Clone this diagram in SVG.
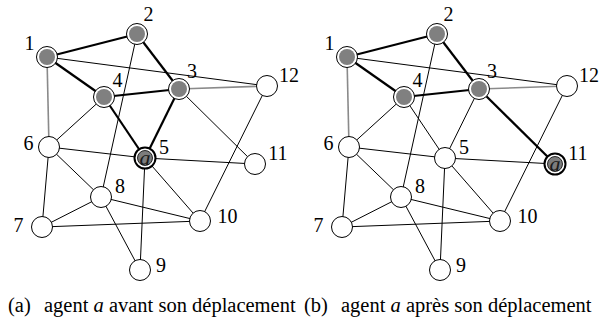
<svg xmlns="http://www.w3.org/2000/svg" width="608" height="320" viewBox="0 0 608 320">
<style>
.e{stroke:#000;stroke-width:1;fill:none}
.t{stroke:#000;stroke-width:2.2;fill:none}
.g{stroke:#8a8a8a;stroke-width:1.6;fill:none}
.n{fill:#fff;stroke:#000;stroke-width:1}
.in{fill:#808080;stroke:none}
.ao{fill:#fff;stroke:#000;stroke-width:2}
.ai{fill:#7c7c7c;stroke:#000;stroke-width:0.8}
.at{font-style:italic;font-size:22px;fill:#1a1a1a;text-anchor:middle}
.l{font-size:20px;fill:#000;text-anchor:middle}
.c{font-size:20.5px;fill:#000}
</style>
<defs>
<g id="plain"><circle class="n" r="10.5"/></g>
<g id="grey"><circle class="n" r="10.5"/><circle class="in" r="8"/></g>
<g id="agent"><circle class="ao" r="10.5"/><circle class="ai" r="7.5"/><text class="at" y="6.5" font-family="Liberation Serif, Times New Roman, serif">a</text></g>
</defs>

<!-- Panel (a) -->
<g id="panel-a" font-family="Liberation Serif, Times New Roman, serif">
<g id="edges-a">
<line class="t" x1="47" y1="57" x2="137" y2="34"/>
<line class="t" x1="47" y1="57" x2="104" y2="97"/>
<line class="t" x1="137" y1="34" x2="179" y2="89"/>
<line class="t" x1="104" y1="97" x2="179" y2="89"/>
<line class="t" x1="104" y1="97" x2="145" y2="158"/>
<line class="t" x1="179" y1="89" x2="145" y2="158"/>
<line class="e" x1="47" y1="57" x2="267" y2="86"/>
<line class="g" x1="47" y1="57" x2="49" y2="147"/>
<line class="g" x1="179" y1="89" x2="267" y2="86"/>
<line class="e" x1="137" y1="34" x2="101" y2="197"/>
<line class="e" x1="104" y1="97" x2="49" y2="147"/>
<line class="e" x1="179" y1="89" x2="255" y2="164"/>
<line class="e" x1="267" y1="86" x2="200" y2="221"/>
<line class="e" x1="49" y1="147" x2="145" y2="158"/>
<line class="e" x1="49" y1="147" x2="101" y2="197"/>
<line class="e" x1="49" y1="147" x2="42" y2="227"/>
<line class="e" x1="145" y1="158" x2="255" y2="164"/>
<line class="e" x1="145" y1="158" x2="140" y2="270"/>
<line class="e" x1="145" y1="158" x2="200" y2="221"/>
<line class="e" x1="101" y1="197" x2="42" y2="227"/>
<line class="e" x1="101" y1="197" x2="200" y2="221"/>
<line class="e" x1="101" y1="197" x2="140" y2="270"/>
<line class="e" x1="42" y1="227" x2="200" y2="221"/>
</g>
<g id="a-n1"><use href="#grey" x="47" y="57"/><text class="l" x="29.5" y="50">1</text></g>
<g id="a-n2"><use href="#grey" x="137" y="34"/><text class="l" x="148.5" y="21">2</text></g>
<g id="a-n3"><use href="#grey" x="179" y="89"/><text class="l" x="192" y="78">3</text></g>
<g id="a-n4"><use href="#grey" x="104" y="97"/><text class="l" x="117.5" y="87">4</text></g>
<g id="a-n5"><use href="#agent" x="145" y="158"/><text class="l" x="164" y="154">5</text></g>
<g id="a-n6"><use href="#plain" x="49" y="147"/><text class="l" x="28.5" y="150">6</text></g>
<g id="a-n7"><use href="#plain" x="42" y="227"/><text class="l" x="18.5" y="232">7</text></g>
<g id="a-n8"><use href="#plain" x="101" y="197"/><text class="l" x="120" y="193">8</text></g>
<g id="a-n9"><use href="#plain" x="140" y="270"/><text class="l" x="161" y="272">9</text></g>
<g id="a-n10"><use href="#plain" x="200" y="221"/><text class="l" x="227.5" y="223">10</text></g>
<g id="a-n11"><use href="#plain" x="255" y="164"/><text class="l" x="278" y="160">11</text></g>
<g id="a-n12"><use href="#plain" x="267" y="86"/><text class="l" x="289" y="82">12</text></g>
</g>

<!-- Panel (b) -->
<g id="panel-b" transform="translate(300,0)" font-family="Liberation Serif, Times New Roman, serif">
<g id="edges-b">
<line class="t" x1="47" y1="57" x2="137" y2="34"/>
<line class="t" x1="47" y1="57" x2="104" y2="97"/>
<line class="t" x1="137" y1="34" x2="179" y2="89"/>
<line class="t" x1="104" y1="97" x2="179" y2="89"/>
<line class="t" x1="179" y1="89" x2="255" y2="164"/>
<line class="e" x1="104" y1="97" x2="145" y2="158"/>
<line class="e" x1="179" y1="89" x2="145" y2="158"/>
<line class="e" x1="47" y1="57" x2="267" y2="86"/>
<line class="g" x1="47" y1="57" x2="49" y2="147"/>
<line class="g" x1="179" y1="89" x2="267" y2="86"/>
<line class="e" x1="137" y1="34" x2="101" y2="197"/>
<line class="e" x1="104" y1="97" x2="49" y2="147"/>
<line class="e" x1="267" y1="86" x2="200" y2="221"/>
<line class="e" x1="49" y1="147" x2="145" y2="158"/>
<line class="e" x1="49" y1="147" x2="101" y2="197"/>
<line class="e" x1="49" y1="147" x2="42" y2="227"/>
<line class="e" x1="145" y1="158" x2="255" y2="164"/>
<line class="e" x1="145" y1="158" x2="140" y2="270"/>
<line class="e" x1="145" y1="158" x2="200" y2="221"/>
<line class="e" x1="101" y1="197" x2="42" y2="227"/>
<line class="e" x1="101" y1="197" x2="200" y2="221"/>
<line class="e" x1="101" y1="197" x2="140" y2="270"/>
<line class="e" x1="42" y1="227" x2="200" y2="221"/>
</g>
<g id="b-n1"><use href="#grey" x="47" y="57"/><text class="l" x="29.5" y="50">1</text></g>
<g id="b-n2"><use href="#grey" x="137" y="34"/><text class="l" x="148.5" y="21">2</text></g>
<g id="b-n3"><use href="#grey" x="179" y="89"/><text class="l" x="192" y="78">3</text></g>
<g id="b-n4"><use href="#grey" x="104" y="97"/><text class="l" x="117.5" y="87">4</text></g>
<g id="b-n5"><use href="#plain" x="145" y="158"/><text class="l" x="164" y="154">5</text></g>
<g id="b-n6"><use href="#plain" x="49" y="147"/><text class="l" x="28.5" y="150">6</text></g>
<g id="b-n7"><use href="#plain" x="42" y="227"/><text class="l" x="18.5" y="232">7</text></g>
<g id="b-n8"><use href="#plain" x="101" y="197"/><text class="l" x="120" y="193">8</text></g>
<g id="b-n9"><use href="#plain" x="140" y="270"/><text class="l" x="161" y="272">9</text></g>
<g id="b-n10"><use href="#plain" x="200" y="221"/><text class="l" x="227.5" y="223">10</text></g>
<g id="b-n11"><use href="#agent" x="255" y="164"/><text class="l" x="278" y="160">11</text></g>
<g id="b-n12"><use href="#plain" x="267" y="86"/><text class="l" x="289" y="82">12</text></g>
</g>

<g id="captions" font-family="Liberation Serif, Times New Roman, serif">
<text class="c" x="8" y="312">(a)</text>
<text class="c" x="44" y="312">agent <tspan font-style="italic">a</tspan> avant son déplacement</text>
<text class="c" x="304" y="312">(b)</text>
<text class="c" x="341" y="312">agent <tspan font-style="italic">a</tspan> après son déplacement</text>
</g>
</svg>
